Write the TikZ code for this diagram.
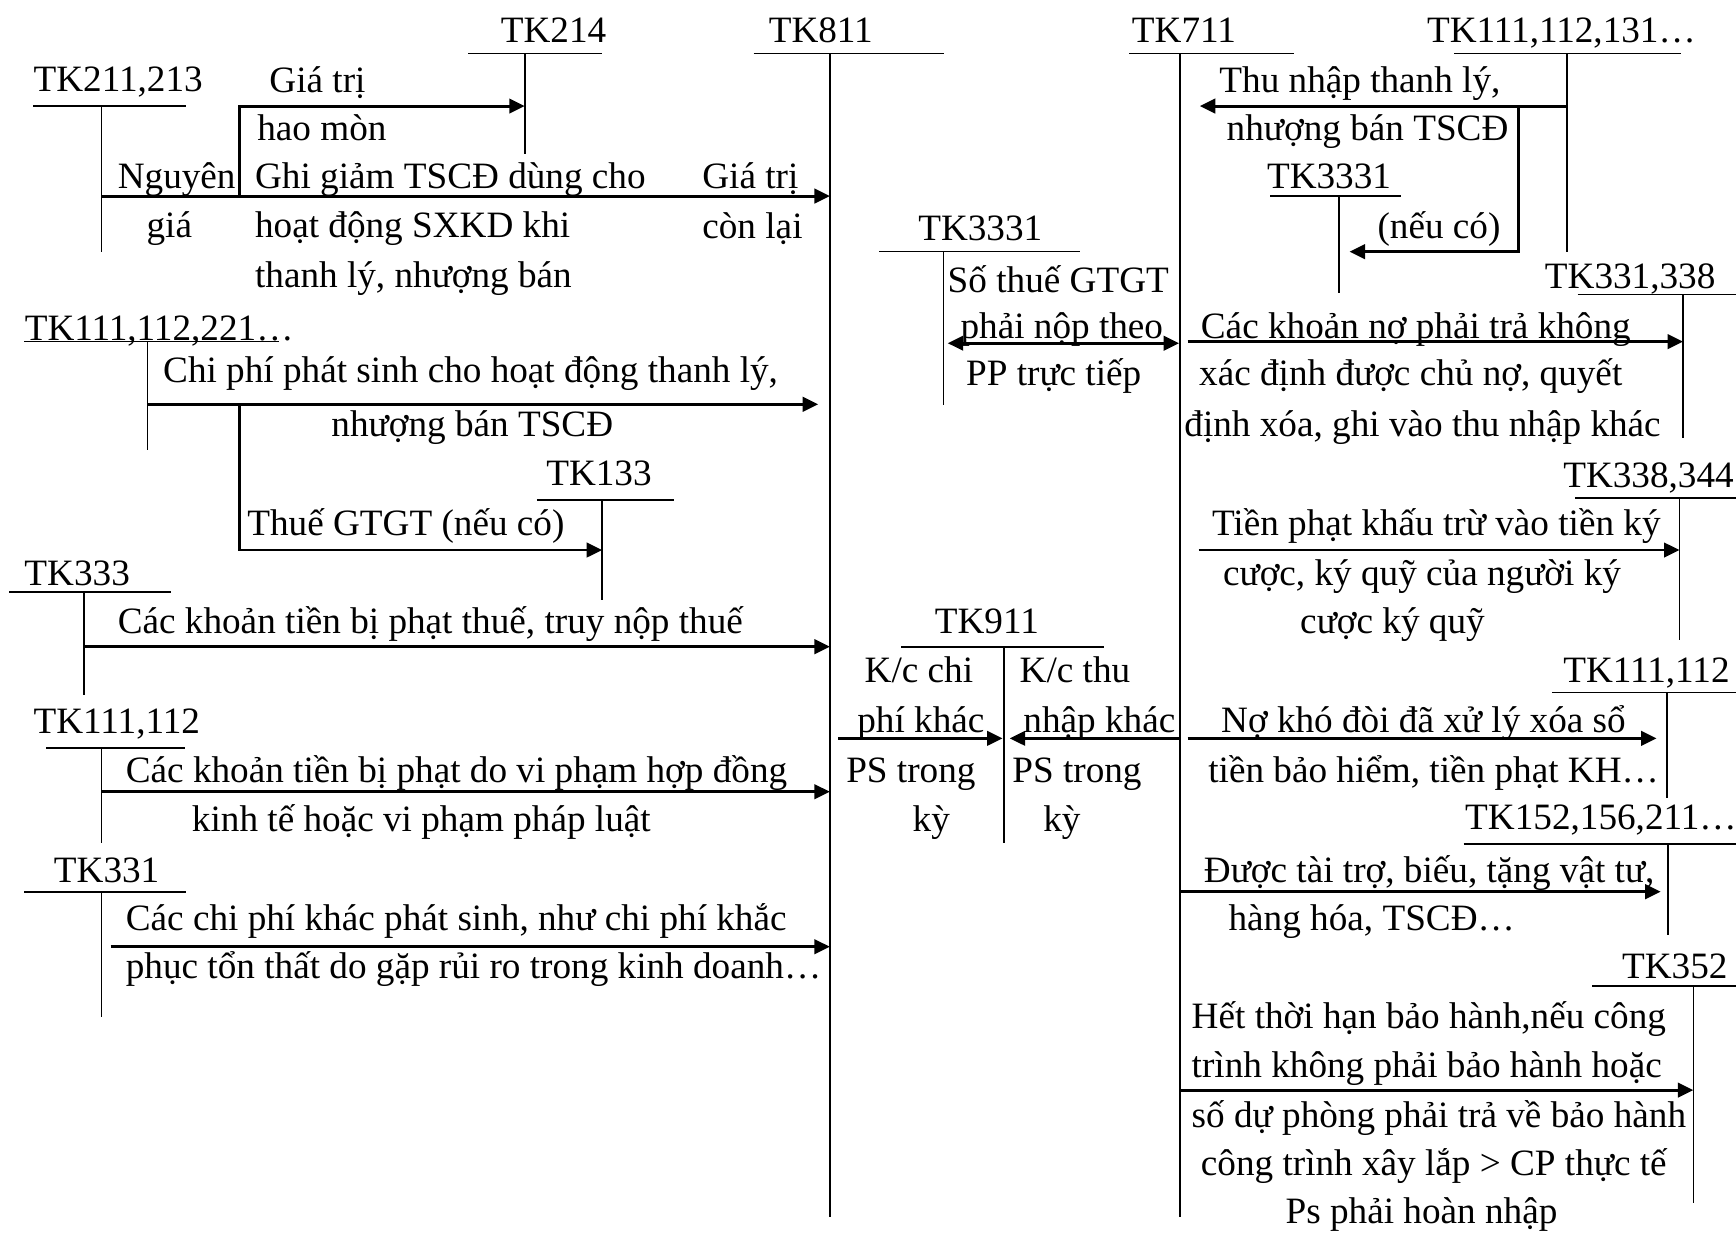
\documentclass[tikz,border=0pt]{standalone}
\usepackage{fontspec}
\setmainfont{Liberation Serif}
\usetikzlibrary{arrows.meta}
\begin{document}
\begin{tikzpicture}[x=0.5pt,y=-0.5pt,
  acct/.style={line width=0.75pt},
  flow/.style={line width=1.3pt,-{Triangle[length=7pt,width=6.5pt]}},
  flowboth/.style={line width=1.3pt,{Triangle[length=7pt,width=6.5pt]}-{Triangle[length=7pt,width=6.5pt]}},
  lab/.style={inner sep=0pt,anchor=base west,yshift=-1pt,font=\fontsize{16.8pt}{22pt}\selectfont}]
\useasboundingbox (0,0) rectangle (1568,1113);
% T-account: name, left end, right end, stem x, header y, stem bottom
\newcommand\tacct[6]{%
  \draw[acct] (#2,#5) -- (#3,#5);
  \draw[acct] (#4,#5) coordinate (#1-t) -- (#4,#6) coordinate (#1-b);}
\tacct{a214}{423}{544}{474}{48.2}{139}
\tacct{a811}{680.6}{852.2}{749.6}{48.2}{1099}
\tacct{a711}{1020}{1169}{1066}{48.2}{1099}
\tacct{a111r}{1313.6}{1518}{1415.6}{48.2}{227.3}
\tacct{a211}{30}{168}{91.7}{95.8}{227.3}
\tacct{a3331r}{1147.5}{1265.4}{1209.6}{177}{265}
\tacct{a3331m}{794}{975.6}{852.2}{227.3}{366}
\tacct{a331r}{1425}{1568}{1520.2}{265.9}{396}
\tacct{a111l}{22}{252}{133.3}{308.6}{406.4}
\tacct{a133}{485}{609}{543.9}{451.6}{542}
\tacct{a338}{1423}{1568}{1517}{450}{578}
\tacct{a333}{8.3}{154}{76}{535}{627.7}
\tacct{a911}{814}{997.2}{906.6}{584.1}{761.8}
\tacct{a112r}{1401.6}{1568}{1505.6}{625.6}{721}
\tacct{a112l}{41.7}{166.7}{91.7}{675.9}{761.8}
\tacct{a152}{1322}{1568}{1506.3}{762.4}{844.6}
\tacct{a331l}{21.7}{168.3}{91.7}{805.4}{918.4}
\tacct{a352}{1438}{1568}{1529.5}{890.4}{1086.4}
% branch points and free arrow ends
\coordinate (hm) at (216.7,177.1);
\coordinate (cp) at (216.7,365.2);
\coordinate (cpend) at (739,365.2);
\coordinate (tnend) at (1083.7,95.8);
\coordinate (vat) at (1371.7,95.8);
\coordinate (vatend) at (1218.9,227.3);
\coordinate (gtl) at (856,310);
\coordinate (gtr) at (1065,310);
\coordinate (nst) at (1072.7,308.6);
\coordinate (tpst) at (1082.7,496.8);
\coordinate (kcl) at (757,666.9);
\coordinate (kcr) at (912,666.9);
\coordinate (kcre) at (905.5,666.9);
\coordinate (nkd) at (1072.7,666.9);
\coordinate (nkde) at (1496.3,666.9);
\coordinate (tte) at (1500,805.4);
\coordinate (cpk) at (100,855.1);
% flows
\draw[flow] (hm) |- (a214-t |- 0,95.8);
\draw[flow] (a211-t |- 0,177.1) -- (a811-t |- 0,177.1);
\draw[flow] (a111r-t |- 0,95.8) -- (tnend);
\draw[flow] (vat) |- (vatend);
\draw[flowboth] (gtl) -- (gtr);
\draw[flow] (nst) -- (a331r-t |- nst);
\draw[flow] (a111l-t |- cp) -- (cpend);
\draw[flow] (cp) |- (a133-t |- 0,496.8);
\draw[flow] (tpst) -- (a338-t |- tpst);
\draw[flow] (a333-t |- 0,584.1) -- (a811-t |- 0,584.1);
\draw[flow] (kcl) -- (kcre);
\draw[flow] (a711-t |- kcr) -- (kcr);
\draw[flow] (nkd) -- (nkde);
\draw[flow] (a112l-t |- 0,715.1) -- (a811-t |- 0,715.1);
\draw[flow] (a711-t |- tte) -- (tte);
\draw[flow] (cpk) -- (a811-t |- cpk);
\draw[flow] (a711-t |- 0,984.6) -- (a352-t |- 0,984.6);
% account titles
\node[lab] (t214) at (452,36) {TK214};
\node[lab] (t811) at (694,36) {TK811};
\node[lab] (t711) at (1022,36) {TK711};
\node[lab] (t111r) at (1288.6,36) {TK111,112,131…};
\node[lab] (t211) at (30,80.7) {TK211,213};
\node[lab] (t3331r) at (1144,168.6) {TK3331};
\node[lab] (t3331m) at (829,215.3) {TK3331};
\node[lab] (t331r) at (1395,259) {TK331,338};
\node[lab] (t111l) at (22,305.6) {TK111,112,221…};
\node[lab] (t133) at (493,436.5) {TK133};
\node[lab] (t338) at (1411.6,438) {TK338,344};
\node[lab] (t333) at (21.7,526.9) {TK333};
\node[lab] (t911) at (844,570.5) {TK911};
\node[lab] (t112r) at (1411.6,614.2) {TK111,112};
\node[lab] (t112l) at (30,660.9) {TK111,112};
\node[lab] (t152) at (1323,747) {TK152,156,211…};
\node[lab] (t331l) at (48.3,794.9) {TK331};
\node[lab] (t352) at (1464.7,882.2) {TK352};
% left-hand entries
\node[lab] (l1) at (243,81.3) {Giá trị};
\node[lab] (l2) at (232,125) {hao mòn};
\node[lab] (l3) at (106,168.6) {Nguyên};
\node[lab] (l4) at (132,212.3) {giá};
\node[lab] (l5) at (230,168.6) {Ghi giảm TSCĐ dùng cho};
\node[lab] (l6) at (230,212.3) {hoạt động SXKD khi};
\node[lab] (l7) at (230,257.5) {thanh lý, nhượng bán};
\node[lab] (l8) at (634,168.6) {Giá trị};
\node[lab] (l9) at (634,213.8) {còn lại};
\node[lab] (l10) at (147,343.3) {Chi phí phát sinh cho hoạt động thanh lý,};
\node[lab] (l11) at (299,392.5) {nhượng bán TSCĐ};
\node[lab] (l12) at (223,481.7) {Thuế GTGT (nếu có)};
\node[lab] (l13) at (106,570.5) {Các khoản tiền bị phạt thuế, truy nộp thuế};
\node[lab] (l14) at (113.3,704.5) {Các khoản tiền bị phạt do vi phạm hợp đồng};
\node[lab] (l15) at (173,749) {kinh tế hoặc vi phạm pháp luật};
\node[lab] (l16) at (113.3,838.6) {Các chi phí khác phát sinh, như chi phí khắc};
\node[lab] (l17) at (113.3,882.2) {phục tổn thất do gặp rủi ro trong kinh doanh…};
% middle entries
\node[lab] (m1) at (855.6,262) {Số thuế GTGT};
\node[lab] (m2) at (867.2,304) {phải nộp theo};
\node[lab] (m3) at (872.2,346.3) {PP trực tiếp};
\node[lab] (m4) at (780.6,614.2) {K/c chi};
\node[lab] (m5) at (774,659.4) {phí khác};
\node[lab] (m6) at (764,704.5) {PS trong};
\node[lab] (m7) at (824,749) {kỳ};
\node[lab] (m8) at (920.6,614.2) {K/c thu};
\node[lab] (m9) at (924,659.4) {nhập khác};
\node[lab] (m10) at (914,704.5) {PS trong};
\node[lab] (m11) at (942,749) {kỳ};
% right-hand entries
\node[lab] (r1) at (1101,81.3) {Thu nhập thanh lý,};
\node[lab] (r2) at (1107.6,125) {nhượng bán TSCĐ};
\node[lab] (r3) at (1243.8,213.8) {(nếu có)};
\node[lab] (r4) at (1084.3,304) {Các khoản nợ phải trả không};
\node[lab] (r5) at (1082.7,346.3) {xác định được chủ nợ, quyết};
\node[lab] (r6) at (1069.4,392) {định xóa, ghi vào thu nhập khác};
\node[lab] (r7) at (1094.3,481.7) {Tiền phạt khấu trừ vào tiền ký};
\node[lab] (r8) at (1104.3,526.9) {cược, ký quỹ của người ký};
\node[lab] (r9) at (1174,570.5) {cược ký quỹ};
\node[lab] (r10) at (1102.6,659.4) {Nợ khó đòi đã xử lý xóa sổ};
\node[lab] (r11) at (1091,704.5) {tiền bảo hiểm, tiền phạt KH…};
\node[lab] (r12) at (1087,794.9) {Được tài trợ, biếu, tặng vật tư,};
\node[lab] (r13) at (1109.3,838.6) {hàng hóa, TSCĐ…};
\node[lab] (r14) at (1076,927.4) {Hết thời hạn bảo hành,nếu công};
\node[lab] (r15) at (1076,971) {trình không phải bảo hành hoặc};
\node[lab] (r16) at (1076,1016.2) {số dự phòng phải trả về bảo hành};
\node[lab] (r17) at (1084.3,1059.9) {công trình xây lắp > CP thực tế};
\node[lab] (r18) at (1160.8,1103.5) {Ps phải hoàn nhập};
\end{tikzpicture}
\end{document}
